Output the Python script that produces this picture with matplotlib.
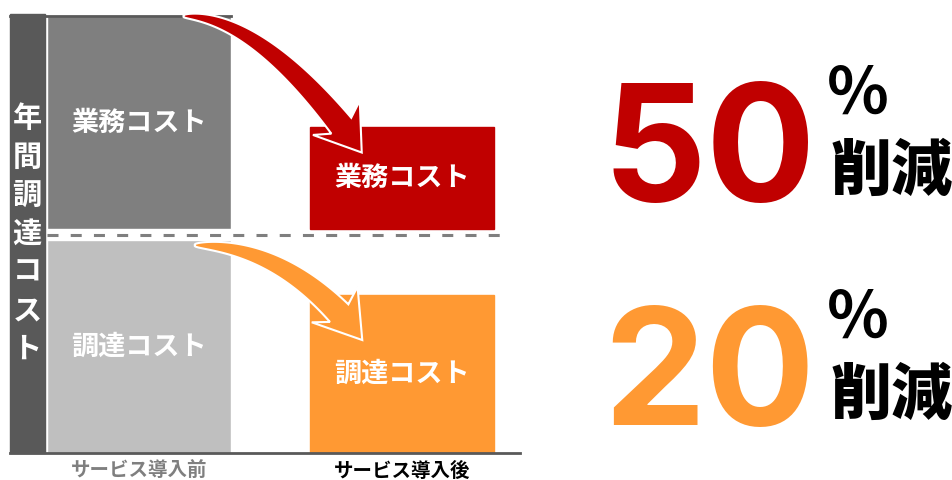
import numpy as np
import matplotlib
matplotlib.use("Agg")
import matplotlib.pyplot as plt
from matplotlib.patches import Rectangle, Polygon
from matplotlib.transforms import IdentityTransform

plt.rcParams['font.family'] = ['Noto Sans CJK JP', 'DejaVu Sans']

# データ (導入前を100とした相対値)
categories = ['サービス導入前', 'サービス導入後']
procure_cost = [100, 74]    # 調達コスト
business_cost = [100, 48]   # 業務コスト
segment_names = ['業務コスト', '調達コスト']
reduction_rate = ['50', '20']
axis_title = '年間調達コスト'

# 色
c_band = '#595959'
c_business = ['#7f7f7f', '#c00000']
c_procure = ['#bfbfbf', '#ff9933']

gap = 5
width = 0.70
x = [0, 1]

fig = plt.figure(figsize=(9.53, 4.8), dpi=100)
ax = fig.add_axes([10 / 953, 27 / 480, 510 / 953, 439 / 480])

split = procure_cost[0] + gap / 2
top = procure_cost[0] + gap + business_cost[0]

# 棒グラフ
for i in x:
    ax.bar(i, procure_cost[i], width=width, color=c_procure[i],
           edgecolor='white' if i == 0 else c_procure[i], linewidth=1, zorder=2)
    ax.bar(i, business_cost[i], width=width, bottom=procure_cost[0] + gap,
           color=c_business[i], edgecolor='white' if i == 0 else c_business[i],
           linewidth=1, zorder=2)
    ax.text(i, procure_cost[0] + gap + business_cost[i] / 2, segment_names[0],
            color='white', fontsize=19.5, fontweight='bold', ha='center', va='center', zorder=3)
    ax.text(i, procure_cost[i] / 2, segment_names[1],
            color='white', fontsize=19.5, fontweight='bold', ha='center', va='center', zorder=3)

ax.set_xlim(-0.49, 1.45)
ax.set_ylim(0, top + 1)

# 左の帯
ax.add_patch(Rectangle((0, 0), 35 / 510, 1, transform=ax.transAxes,
                       color=c_band, zorder=3, clip_on=False))
ax.text(17 / 510, 0.50, '\n'.join(axis_title), transform=ax.transAxes,
        color='white', fontsize=21, fontweight='bold', ha='center', va='center',
        linespacing=1.35, zorder=4)

# 破線・枠線
ax.plot([-0.35, 1.414], [split, split], color='#7f7f7f', lw=2.2,
        ls=(0, (3.6, 4.0)), zorder=1)
ax.axhline(0, color=c_band, lw=2, zorder=4, clip_on=False)
ax.axhline(top, xmin=0, xmax=0.433, color=c_band, lw=2, zorder=4, clip_on=False)


def curved_arrow(start, end, bend, color, tail_w, head_w, head_l, notch):
    # 先細りの曲線矢印 (二次ベジェ、ピクセル単位で幅を指定)
    p0 = ax.transData.transform(start)
    p2 = ax.transData.transform(end)
    c = np.array([p0[0] + bend * (p2[0] - p0[0]), p0[1]])
    t = np.linspace(0, 1, 300)[:, None]
    pts = (1 - t) ** 2 * p0 + 2 * (1 - t) * t * c + t ** 2 * p2
    der = 2 * (1 - t) * (c - p0) + 2 * t * (p2 - c)
    der /= np.hypot(der[:, 0], der[:, 1])[:, None]
    nrm = np.column_stack([-der[:, 1], der[:, 0]])
    s = np.concatenate([[0], np.cumsum(np.hypot(*np.diff(pts, axis=0).T))])
    ib = np.searchsorted(s, s[-1] - head_l)
    w = tail_w * np.clip(s[:ib + 1] / s[ib], 0, 1) ** 0.55 + 1.5
    left = pts[:ib + 1] + nrm[:ib + 1] * w[:, None] / 2
    right = pts[:ib + 1] - nrm[:ib + 1] * w[:, None] / 2
    d = der[-1]
    n = nrm[-1]
    b = p2 - d * head_l
    cl = b - d * notch + n * head_w / 2
    cr = b - d * notch - n * head_w / 2
    poly = np.vstack([left, cl, p2, cr, right[::-1]])
    ax.add_patch(Polygon(poly, closed=True, transform=IdentityTransform(),
                         fc=color, ec='white', lw=1.5, zorder=5, clip_on=False))


# 矢印
curved_arrow((0.17, top), (0.848, 141), 0.44, c_business[1], 24, 58, 34, 9)
curved_arrow((0.213, 97.5), (0.85, 53), 0.56, c_procure[1], 24, 58, 36, 9)

# 軸
for s in ax.spines.values():
    s.set_visible(False)
ax.set_yticks([])
ax.set_xticks(x, categories)
ax.tick_params(axis='x', length=0, pad=6)
for lbl, col in zip(ax.get_xticklabels(), ['#7f7f7f', 'black']):
    lbl.set_color(col)
    lbl.set_fontsize(14)
    lbl.set_fontweight('bold')

# 右側の削減率
num_colors = [c_business[1], c_procure[1]]
num_base = [201, 425]
for rate, col, yb in zip(reduction_rate, num_colors, num_base):
    fig.text(709 / 953, 1 - yb / 480, rate, color=col, fontsize=117,
             fontweight='bold', family='Inter', ha='center', va='baseline')
    fig.text(858 / 953, 1 - (yb - 106) / 480, '％', color='black', fontsize=46,
             fontweight='bold', ha='center', va='center')
    fig.text(831 / 953, 1 - (yb - 29) / 480, '削減', color='black', fontsize=44,
             fontweight='black', ha='left', va='center')

fig.savefig('out.png', dpi=100)
